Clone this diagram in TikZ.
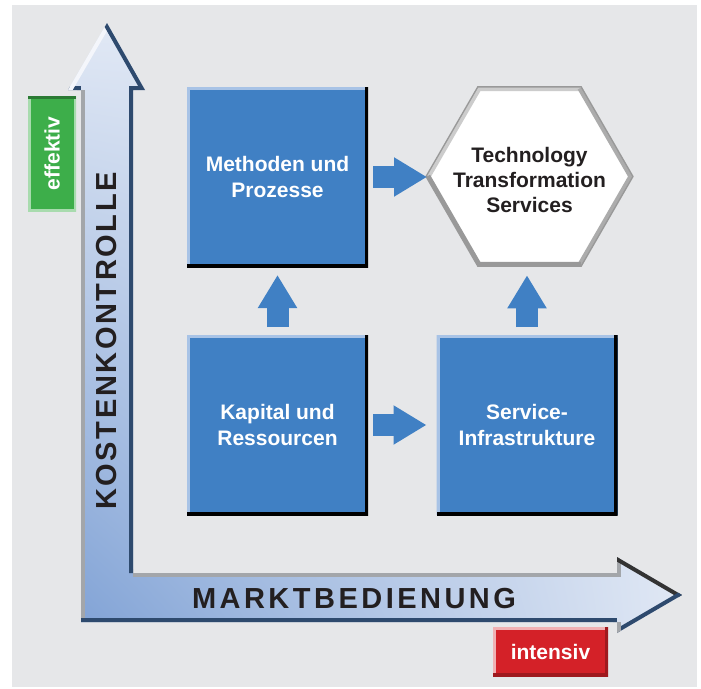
\documentclass[tikz,border=0pt]{standalone}
\usepackage{fontspec}
\setmainfont{Liberation Sans}
\usetikzlibrary{shapes.geometric,arrows.meta,shadings}
\definecolor{bggray}{HTML}{E6E7E9}
\definecolor{boxblue}{HTML}{4080C4}
\definecolor{boxlight}{HTML}{A8C3E6}
\definecolor{axnavy}{HTML}{2E4A6E}
\definecolor{axgray}{HTML}{A3A6AA}
\definecolor{axlight}{HTML}{E2E9F5}
\definecolor{axdark}{HTML}{7C9FD4}
\definecolor{txtdark}{HTML}{231F20}
\definecolor{taggreen}{HTML}{3DAE4A}
\definecolor{tagred}{HTML}{D42128}
\begin{document}
\begin{tikzpicture}[x=1pt,y=-1pt,
  bluebox/.style={fill=boxblue,text=white,minimum width=181pt,minimum height=180pt,
    inner sep=0pt,outer sep=0pt,align=center,font=\bfseries\fontsize{21}{26}\selectfont},
  hexbox/.style={regular polygon,regular polygon sides=6,minimum size=205pt,fill=white,
    draw=gray!80,line width=3pt,inner sep=0pt,outer sep=0pt},
  hextext/.style={text=txtdark,align=center,inner sep=0pt,font=\bfseries\fontsize{21}{25}\selectfont},
  fat/.style={draw=boxblue,line width=22pt,-{Triangle[length=33pt,width=37pt]}},
  axistext/.style={text=txtdark,inner sep=0pt,font=\bfseries\fontsize{29}{29}\selectfont},
  tag/.style={text=white,inner sep=0pt,outer sep=0pt,font=\bfseries\fontsize{21}{21}\selectfont},
  edge/.style={line width=8pt}]
\useasboundingbox (0,0) rectangle (701,688);
\fill[bggray] (12,5) rectangle (697,687);
\begin{scope}
\clip (107,23) -- (145,90) -- (133,90) -- (133,573) -- (617,573) -- (617,557) -- (682,595)
  -- (617,633) -- (617,622) -- (81,622) -- (81,90) -- (68,90) -- cycle;
\shade[upper left=axlight,upper right=axlight,lower left=axdark,lower right=axlight]
  (60,20) rectangle (690,640);
\draw[edge,axgray] (81,622) -- (81,90);
\draw[edge,axnavy] (68,90) -- (81,90);
\draw[edge,white!60!axlight] (68,90) -- (107,23);
\draw[edge,axnavy] (107,23) -- (145,90) -- (133,90) -- (133,573);
\draw[edge,axgray] (133,573) -- (617,573) -- (617,557);
\draw[edge,black!80] (617,557) -- (682,595);
\draw[edge,axnavy] (682,595) -- (617,633);
\draw[edge,axgray] (617,633) -- (617,622);
\draw[edge,axnavy] (617,622) -- (81,622);
\end{scope}
\node[axistext,rotate=90] (kosten) at (107,341)
  {\addfontfeatures{LetterSpace=9}KOSTENKONTROLLE};
\node[axistext] (markt) at (354,599)
  {\addfontfeatures{LetterSpace=12}MARKTBEDIENUNG};
\node[tag,fill=taggreen,rotate=90,minimum width=115pt,minimum height=48pt] (eff) at (52,153.5) {effektiv};
\node[tag,fill=tagred,minimum width=115pt,minimum height=49pt] (int) at (550.5,651.5) {intensiv};
\begin{scope}
\clip (eff.south west) rectangle (eff.north east);
\draw[line width=5pt,taggreen!45!white] (eff.north east) -- (eff.north west) -- (eff.south west) -- (eff.south east);
\draw[line width=6pt,taggreen!70!black] (eff.north east) -- (eff.south east);
\end{scope}
\begin{scope}
\clip (int.south west) rectangle (int.north east);
\draw[line width=6pt,tagred!35!white] (int.south west) -- (int.north west) -- (int.north east);
\draw[line width=6pt,tagred!75!black] (int.north east) -- (int.south east) -- (int.south west);
\end{scope}
\node[bluebox] (meth) at (277.5,177) {Methoden und\\Prozesse};
\node[bluebox] (kap) at (277.5,425) {Kapital und\\Ressourcen};
\node[bluebox] (serv) at (527,425) {Service-\\Infrastrukture};
\node[hexbox] (hex) at (529.5,176.5) {};
\node[hextext] (tts) at (529.5,180) {Technology\\Transformation\\Services};
\foreach \b in {meth,kap,serv}{
  \begin{scope}
  \clip (\b.south west) rectangle (\b.north east);
  \draw[line width=6pt,boxlight] (\b.south west) -- (\b.north west) -- (\b.north east);
  \draw[line width=7pt,black] (\b.north east) -- (\b.south east) -- (\b.south west);
  \end{scope}
}
\begin{scope}
\clip (hex.180) -- (hex.120) -- (hex.60) -- (hex.0) -- (hex.300) -- (hex.240) -- cycle;
\draw[line width=7pt,gray!40] (hex.180) -- (hex.120) -- (hex.60);
\draw[line width=7pt,gray!65] (hex.60) -- (hex.0) -- (hex.300);
\draw[line width=7pt,gray!120!black] (hex.300) -- (hex.240) -- (hex.180);
\end{scope}
\draw[fat,shorten <=8pt,shorten >=8pt] (kap.north) -- (meth.south);
\draw[fat,shorten <=8pt,shorten >=10pt] (serv.north) -- (serv.north |- hex.south);
\draw[fat,shorten <=5pt] (meth.east) -- (meth.east -| hex.west);
\draw[fat,shorten <=5pt,shorten >=10pt] (kap.east) -- (serv.west);
\end{tikzpicture}
\end{document}
